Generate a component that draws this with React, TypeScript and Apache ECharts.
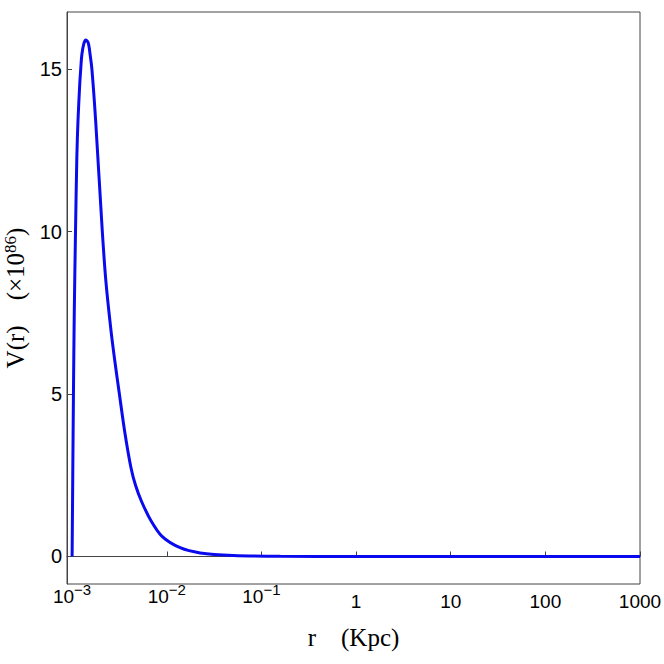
import React, { useEffect, useRef } from "react";
import * as echarts from "echarts";

// r in Kpc (log axis), V(r) in units of 10^86
const rValues = [
  0.001, 0.001016, 0.001033, 0.001054, 0.001086, 0.001122, 0.001153, 0.001202,
  0.001233, 0.001268, 0.001334, 0.0014, 0.001483, 0.001549, 0.001618, 0.001774,
  0.00208, 0.00227, 0.002565, 0.002831, 0.003158, 0.003613, 0.004182, 0.004669,
  0.005404, 0.006816, 0.008913, 0.01384, 0.02254, 0.05047, 0.1585, 1, 10, 100, 1000,
];
const vValues = [
  0, 2.5, 5, 7.5, 10, 12.3, 13.4, 14.5,
  15.0, 15.45, 15.8, 15.9, 15.8, 15.45, 15.0, 13.4,
  10.05, 8.5, 7, 6, 5, 3.8, 2.74, 2.2,
  1.7, 1.1, 0.62, 0.27, 0.11, 0.03, 0.004, 0, 0, 0, 0,
];
const xTickValues = [0.001, 0.01, 0.1, 1, 10, 100, 1000];
const yTickValues = [0, 5, 10, 15];
const xRange = [0.000883, 1000];
const yRange = [-0.847, 16.76];
const xTitle = "r\u00a0\u00a0\u00a0\u00a0(Kpc)";
const yTitleMain = "V(r)\u00a0\u00a0\u00a0\u00a0(×10";
const yTitleSup = "86";
const yTitleEnd = ")";

export default function App() {
  const ref = useRef<HTMLDivElement>(null);
  useEffect(() => {
    if (!ref.current) return;
    const chart = echarts.init(ref.current, null, { renderer: "svg" });
    const axisColor = "#444";
    chart.setOption({
      animation: false,
      backgroundColor: "#fff",
      grid: {
        left: 67,
        right: 24,
        top: 12,
        bottom: 80,
        containLabel: false,
        outerBoundsMode: "none",
        show: true,
        borderColor: axisColor,
        borderWidth: 1,
        backgroundColor: "transparent",
      },
      xAxis: {
        type: "log",
        logBase: 10,
        min: xRange[0],
        max: xRange[1],
        name: xTitle,
        nameLocation: "middle",
        nameGap: 41,
        nameTextStyle: {
          fontFamily: "Liberation Serif",
          fontSize: 25,
          color: "#000",
        },
        axisLine: { show: true, lineStyle: { color: axisColor, width: 1 } },
        axisTick: {
          show: true,
          inside: true,
          length: 5,
          customValues: xTickValues,
          lineStyle: { color: axisColor },
        },
        minorTick: { show: false },
        splitLine: { show: false },
        axisLabel: {
          customValues: xTickValues,
          margin: 3,
          color: "#000",
          fontFamily: "Liberation Sans",
          formatter: (v: number) => {
            const e = Math.round(Math.log10(v));
            if (e < 0) return `{b|10}{s|\u2212${-e}}`;
            return `{p|${Math.round(Math.pow(10, e))}}`;
          },
          rich: {
            b: { fontSize: 19, lineHeight: 19, fontFamily: "Liberation Sans", color: "#000" },
            s: {
              fontSize: 15,
              lineHeight: 15,
              padding: [0, 0, 14, 0],
              fontFamily: "Liberation Sans",
              color: "#000",
            },
            p: { fontSize: 19, lineHeight: 29, fontFamily: "Liberation Sans", color: "#000" },
          },
        },
      },
      yAxis: {
        type: "value",
        min: yRange[0],
        max: yRange[1],
        name: `{a|${yTitleMain}}{s|${yTitleSup}}{a|${yTitleEnd}}`,
        nameLocation: "middle",
        nameGap: 33,
        nameTextStyle: {
          fontFamily: "Liberation Serif",
          fontSize: 25,
          color: "#000",
          rich: {
            a: { fontFamily: "Liberation Serif", fontSize: 25, lineHeight: 25, color: "#000" },
            s: {
              fontFamily: "Liberation Serif",
              fontSize: 17,
              lineHeight: 17,
              padding: [0, 0, 10, 0],
              color: "#000",
            },
          },
        },
        axisLine: { show: true, lineStyle: { color: axisColor, width: 1 } },
        axisTick: {
          show: true,
          inside: true,
          length: 5,
          customValues: yTickValues,
          lineStyle: { color: axisColor },
        },
        splitLine: { show: false },
        axisLabel: {
          customValues: yTickValues,
          margin: 5,
          color: "#000",
          fontFamily: "Liberation Sans",
          fontSize: 20,
        },
      },
      series: [
        {
          type: "line",
          data: rValues.map((r, i) => [r, vValues[i]]),
          showSymbol: false,
          smooth: 0.3,
          lineStyle: { color: "#0a0aef", width: 3 },
          itemStyle: { color: "#0a0aef" },
        },
      ],
    });
    return () => chart.dispose();
  }, []);
  return (
    <div
      ref={ref}
      style={{ position: "fixed", left: 0, top: 0, width: 664, height: 664 }}
    />
  );
}
